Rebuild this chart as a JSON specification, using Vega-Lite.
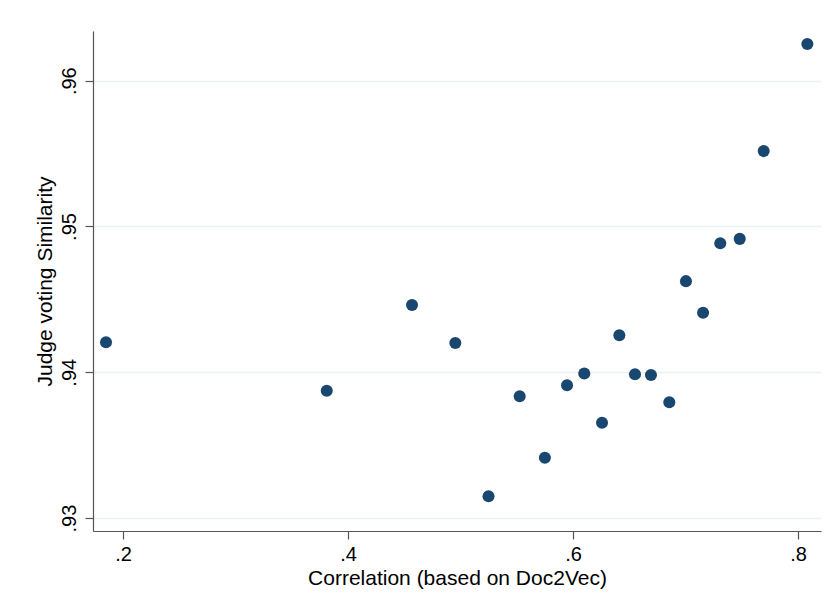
{
  "$schema": "https://vega.github.io/schema/vega-lite/v6.json",
  "width": 728,
  "height": 500,
  "autosize": {"type": "none"},
  "padding": {"left": 93, "top": 31, "right": 9, "bottom": 75},
  "background": "white",
  "config": {
    "view": {"stroke": null},
    "font": "Liberation Sans",
    "axis": {
      "domainColor": "#555555",
      "domainWidth": 1.2,
      "tickColor": "#555555",
      "tickWidth": 1.2,
      "tickSize": 8,
      "labelColor": "#000000",
      "titleColor": "#000000",
      "labelFont": "Liberation Sans",
      "titleFont": "Liberation Sans",
      "labelFontSize": 20,
      "titleFontSize": 21,
      "titleFontWeight": "normal",
      "gridColor": "#eaf2f3",
      "gridWidth": 1.5
    }
  },
  "data": {
    "values": [
      {"corr": 0.1849, "sim": 0.94206},
      {"corr": 0.3811, "sim": 0.93873},
      {"corr": 0.4569, "sim": 0.94462},
      {"corr": 0.4954, "sim": 0.94201},
      {"corr": 0.5249, "sim": 0.93150},
      {"corr": 0.5526, "sim": 0.93835},
      {"corr": 0.5750, "sim": 0.93414},
      {"corr": 0.5947, "sim": 0.93911},
      {"corr": 0.6100, "sim": 0.93991},
      {"corr": 0.6258, "sim": 0.93653},
      {"corr": 0.6412, "sim": 0.94254},
      {"corr": 0.6551, "sim": 0.93986},
      {"corr": 0.6693, "sim": 0.93981},
      {"corr": 0.6856, "sim": 0.93794},
      {"corr": 0.7004, "sim": 0.94625},
      {"corr": 0.7156, "sim": 0.94408},
      {"corr": 0.7309, "sim": 0.94885},
      {"corr": 0.7482, "sim": 0.94915},
      {"corr": 0.7695, "sim": 0.95517},
      {"corr": 0.8083, "sim": 0.96252}
    ]
  },
  "mark": {"type": "circle", "size": 145, "color": "#1a476f", "opacity": 1},
  "encoding": {
    "x": {
      "field": "corr",
      "type": "quantitative",
      "title": "Correlation (based on Doc2Vec)",
      "scale": {"domain": [0.17333, 0.82044], "nice": false, "zero": false},
      "axis": {
        "values": [0.2, 0.4, 0.6, 0.8],
        "labelExpr": "replace(format(datum.value, '.1f'), /^0/, '')",
        "grid": false,
        "labelPadding": 5,
        "titlePadding": 3
      }
    },
    "y": {
      "field": "sim",
      "type": "quantitative",
      "title": "Judge voting Similarity",
      "scale": {"domain": [0.92911, 0.96341], "nice": false, "zero": false},
      "axis": {
        "values": [0.93, 0.94, 0.95, 0.96],
        "labelExpr": "replace(format(datum.value, '.2f'), /^0/, '')",
        "labelAngle": -90,
        "labelAlign": "center",
        "labelBaseline": "bottom",
        "grid": true,
        "labelPadding": 6,
        "titlePadding": 4
      }
    }
  }
}
